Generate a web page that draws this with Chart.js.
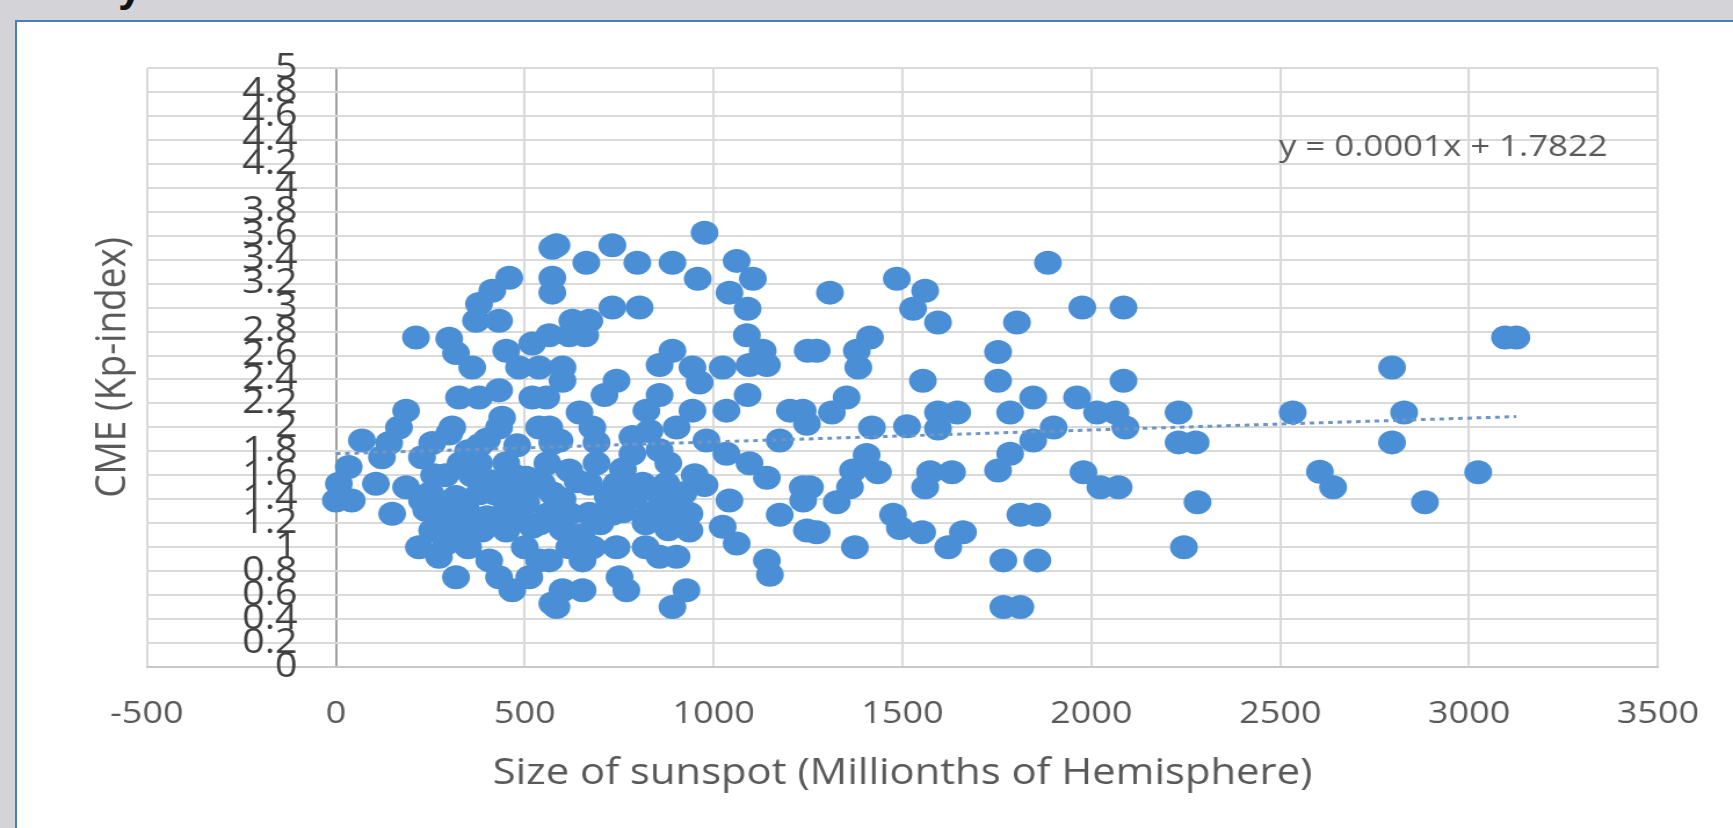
<!DOCTYPE html>
<html>
<head>
  <title>Sunspot size vs CME</title>
  <style>
    body {
      margin: 0;
      padding: 0;
      width: 1733px;
      height: 828px;
      overflow: hidden;
      background-color: #d3d3d8;
      font-family: 'Open Sans', sans-serif;
    }

    .slide-title {
      position: absolute;
      left: 118px;
      top: -36px;
      font-family: 'Liberation Sans', sans-serif;
      font-weight: bold;
      font-size: 44px;
      line-height: 44px;
      color: #111;
    }

    .panel {
      position: absolute;
      left: 15px;
      top: 20px;
      width: 1760px;
      height: 840px;
      background-color: #ffffff;
      border-left: 2px solid #4a7ebb;
      border-top: 2px solid #4a7ebb;
    }

    /* the source screenshot is stretched sideways, so the chart is too */
    .chart-box {
      position: absolute;
      left: 0;
      top: 0;
      width: 1494px;
      height: 828px;
      transform: scaleX(1.16);
      transform-origin: 0 0;
    }
  </style>
  <script src="https://cdn.jsdelivr.net/npm/chart.js"></script>
</head>
<body>
<div class="slide-title">y</div>
<div class="panel"></div>
<div class="chart-box">
  <canvas id="sunspotChart" width="1494" height="828"></canvas>
</div>

<script>
  // sunspot area (millionths of hemisphere) and CME Kp-index
  const sunspotSize = [
    3095, 3125, 2796, 2828, 2796, 2640, 2605, 2883, 3024,
    1885, 1976, 2085, 2085, 1962, 2015, 2064, 2090, 1900, 2231, 2231, 2276, 2281, 2245, 2533, 1979, 2024, 2072, 1857,
    1485, 1560, 1528, 1594, 1308, 1803, 1414, 1379, 1383, 1273, 1753, 1554, 1753, 1846, 1352, 1313, 1247, 1419, 1512,
    1594, 1645, 1594, 1785, 1846, 1785, 1753, 1405, 1369, 1435, 1361, 1326, 1255, 1237, 1573, 1631, 1560, 1475, 1493,
    1552, 1660, 1621, 1273, 1374, 1812, 1857, 1767, 1767, 1812,
    976, 584, 732, 663, 798, 891, 1061, 1104, 958, 1042, 1090, 573, 573, 732, 804, 626, 671, 618, 660, 565, 1088,
    1130, 1141, 1095, 1249, 891, 857, 944, 1024, 963, 600, 600, 743, 711, 857, 1090, 645, 679, 690, 565, 592, 822,
    785, 830, 944, 1034, 902, 981, 785, 857, 1034, 1095, 1141, 1175, 1202, 1236, 618, 671, 743, 812, 875, 976, 1236,
    565, 618, 671, 732, 830, 891, 936, 1042, 1024, 936, 1175, 1247, 618, 679, 743, 565, 653, 857, 902, 1061, 1141,
    1149, 751, 769, 653, 600, 584, 928, 891,
    720, 790, 860, 920, 950, 880, 760, 690,
    573, 459, 414, 379, 371, 432, 212, 300, 318, 361, 451, 520, 485, 538, 326, 379, 432, 520, 557, 440, 432, 186,
    167, 141, 122, 69, 308, 255, 228, 538, 573, 34, 8, 0, 42, 106, 149, 186, 228, 273, 318, 379, 432, 504, 379, 451,
    546, 573, 255, 292, 220, 273, 326, 387, 451, 520, 318, 406, 467, 432, 538, 512, 573, 239, 345, 451, 504, 520,
    290, 350, 400, 480, 300, 400, 480, 350, 500,
    260, 330, 420, 470, 560, 600, 640, 540, 600, 380, 250, 470, 700, 760, 820, 880, 820, 650, 300, 380,
    340, 410, 490, 360, 440
  ];
  const kpIndex = [
    2.75, 2.75, 2.5, 2.125, 1.875, 1.5, 1.63, 1.375, 1.625,
    3.375, 3.0, 3.0, 2.39, 2.25, 2.125, 2.125, 2.0, 2.0, 2.125, 1.875, 1.875, 1.375, 1.0, 2.125, 1.625, 1.5, 1.5, 0.89,
    3.24, 3.14, 2.99, 2.875, 3.125, 2.875, 2.75, 2.64, 2.5, 2.64, 2.63, 2.39, 2.39, 2.25, 2.25, 2.125, 2.03, 2.0, 2.01,
    2.125, 2.125, 1.99, 2.125, 1.89, 1.78, 1.64, 1.77, 1.64, 1.625, 1.5, 1.375, 1.5, 1.39, 1.625, 1.625, 1.5, 1.27, 1.16,
    1.125, 1.125, 1.0, 1.125, 1.0, 1.27, 1.27, 0.89, 0.5, 0.5,
    3.625, 3.52, 3.52, 3.375, 3.375, 3.375, 3.39, 3.24, 3.24, 3.125, 2.99, 3.25, 3.125, 3.0, 3.0, 2.89, 2.89, 2.77, 2.77, 2.77, 2.77,
    2.64, 2.52, 2.52, 2.64, 2.64, 2.52, 2.5, 2.5, 2.375, 2.5, 2.39, 2.39, 2.27, 2.27, 2.27, 2.125, 2.0, 1.875, 2.0, 1.89, 2.14,
    1.92, 1.97, 2.14, 2.14, 2.0, 1.89, 1.78, 1.81, 1.78, 1.7, 1.58, 1.89, 2.14, 2.14, 1.64, 1.53, 1.53, 1.53, 1.53, 1.52, 1.5,
    1.28, 1.28, 1.28, 1.28, 1.28, 1.28, 1.28, 1.39, 1.17, 1.14, 1.27, 1.14, 1.0, 1.0, 1.0, 0.89, 0.89, 0.92, 0.92, 1.03, 0.89,
    0.77, 0.75, 0.64, 0.64, 0.64, 0.5, 0.64, 0.5,
    1.42, 1.42, 1.42, 1.45, 1.6, 1.7, 1.65, 1.7,
    3.5, 3.25, 3.14, 3.03, 2.89, 2.89, 2.75, 2.74, 2.62, 2.5, 2.64, 2.7, 2.5, 2.5, 2.25, 2.25, 2.31, 2.25, 2.25, 2.08, 2.0, 2.14,
    2.0, 1.87, 1.75, 1.89, 2.0, 1.87, 1.75, 2.0, 1.87, 1.67, 1.53, 1.39, 1.39, 1.53, 1.28, 1.5, 1.39, 1.31, 1.42, 1.58, 1.53, 1.58, 1.7, 1.7,
    1.53, 1.45, 1.14, 1.03, 1.0, 0.92, 1.14, 1.14, 1.14, 1.17, 0.75, 0.89, 0.64, 0.75, 0.89, 0.75, 0.53, 1.31, 1.31, 1.37, 1.37, 1.5,
    1.6, 1.8, 1.9, 1.85, 1.2, 1.25, 1.25, 1.0, 1.0,
    1.6, 1.7, 1.45, 1.6, 1.7, 1.4, 1.55, 1.2, 1.15, 1.45, 1.45, 1.3, 1.2, 1.3, 1.2, 1.15, 1.0, 1.1, 1.95, 1.85,
    1.25, 1.55, 1.45, 1.6, 1.2
  ];

  // linear trendline end points (y = 0.0001x + 1.7822)
  const trendX = [0, 3125];
  const trendY = [1.78, 2.09];
  const equationText = 'y = 0.0001x + 1.7822';

  const xTitle = 'Size of sunspot (Millionths of Hemisphere)';
  const yTitle = 'CME (Kp-index)';

  const pointBlue = '#4a8fd6';
  const gridGrey = '#d9d9d9';
  const textGrey = '#595959';

  const scatterPoints = sunspotSize.map((x, i) => ({ x: x, y: kpIndex[i] }));
  const trendPoints = trendX.map((x, i) => ({ x: x, y: trendY[i] }));

  // trendline equation label, top right of the plot
  const equationLabel = {
    id: 'equationLabel',
    afterDraw(chart) {
      const ctx = chart.ctx;
      ctx.save();
      ctx.font = '30px "Open Sans"';
      ctx.fillStyle = textGrey;
      ctx.textAlign = 'right';
      ctx.textBaseline = 'middle';
      ctx.fillText(equationText, 1386, 147);
      ctx.restore();
    }
  };

  const ctx = document.getElementById('sunspotChart').getContext('2d');
  const sunspotChart = new Chart(ctx, {
    type: 'scatter',
    data: {
      datasets: [
        {
          type: 'line',
          label: 'Linear trend',
          data: trendPoints,
          borderColor: '#6f95c4',
          borderWidth: 3,
          borderDash: [4, 4],
          pointRadius: 0,
          fill: false,
          order: 0
        },
        {
          label: 'CME',
          data: scatterPoints,
          backgroundColor: pointBlue,
          borderWidth: 0,
          pointRadius: 12,
          pointHoverRadius: 12,
          order: 1
        }
      ]
    },
    options: {
      responsive: false,
      animation: false,
      layout: {
        padding: { left: 66.7, right: 64.7, top: 68, bottom: 0 }
      },
      plugins: {
        legend: { display: false },
        tooltip: { enabled: false }
      },
      scales: {
        x: {
          type: 'linear',
          min: -500,
          max: 3500,
          afterFit: s => { s.height = 161; },
          ticks: {
            stepSize: 500,
            padding: 29,
            color: textGrey,
            font: { family: 'Open Sans', size: 31 },
            callback: v => String(v)
          },
          grid: {
            drawTicks: false,
            lineWidth: 2,
            color: c => (c.tick && c.tick.value === 0) ? '#a0a0a0' : gridGrey
          },
          border: { color: '#c8c8c8', width: 2 },
          title: {
            display: true,
            text: xTitle,
            color: textGrey,
            font: { family: 'Open Sans', size: 36 },
            padding: { top: 0, bottom: 33 }
          }
        },
        y: {
          type: 'linear',
          min: 0,
          max: 5,
          // labels sit next to the x = 0 line, not at the plot edge
          afterFit: s => {
            s.width = 60;
            s.paddingTop = 0;
            s.paddingBottom = 0;
          },
          ticks: {
            stepSize: 0.2,
            autoSkip: false,
            mirror: true,
            crossAlign: 'far',
            padding: 82,
            color: '#404040',
            font: { family: 'Open Sans', size: 34 },
            callback: v => String(Math.round(v * 10) / 10)
          },
          grid: {
            drawTicks: false,
            lineWidth: 2,
            color: gridGrey
          },
          border: { display: false },
          title: {
            display: true,
            text: yTitle,
            color: textGrey,
            font: { family: 'Open Sans', size: 37 },
            padding: { top: 9, bottom: 4 }
          }
        }
      }
    },
    plugins: [equationLabel]
  });
</script>

</body>
</html>
